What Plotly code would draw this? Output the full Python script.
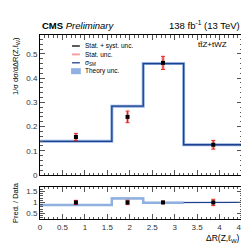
import plotly.graph_objects as go
from plotly.subplots import make_subplots

# ---- data ----
bin_edges = [0.0, 1.6, 2.3, 3.2, 4.5]
sm_pred = [0.139, 0.284, 0.460, 0.125]
data_x = [0.80, 1.95, 2.74, 3.86]
data_y = [0.157, 0.240, 0.463, 0.125]
err_total = [0.015, 0.024, 0.027, 0.018]
err_stat = [0.013, 0.021, 0.024, 0.016]
ratio_pred = [0.88, 1.18, 0.99, 1.0]
x_ticks = [0, 0.5, 1, 1.5, 2, 2.5, 3, 3.5, 4, 4.5]
x_tick_labels = ["0", "0.5", "1", "1.5", "2", "2.5", "3", "3.5", "4", "4.5"]
y_ticks_top = [0, 0.1, 0.2, 0.3, 0.4, 0.5]
y_tick_labels_top = ["0", "0.1", "0.2", "0.3", "0.4", "0.5"]
y_ticks_bot = [0.5, 1, 1.5]
y_tick_labels_bot = ["0.5", "1", "1.5"]

DARK = "#1f3f8f"
LIGHT = "#8fb0e0"
RED = "#e02020"
PINK = "#f4a0a0"
FONT = "Liberation Sans"

def step(edges, vals):
    xs, ys = [], []
    for i, v in enumerate(vals):
        xs += [edges[i], edges[i + 1]]
        ys += [v, v]
    return xs, ys

fig = make_subplots(rows=2, cols=1, shared_xaxes=False,
                    row_heights=[0.76, 0.24], vertical_spacing=0.065)

sx, sy = step(bin_edges, sm_pred)
fig.add_trace(go.Scatter(x=sx, y=sy, mode="lines", line=dict(color=LIGHT, width=3),
                         hoverinfo="skip", showlegend=False), row=1, col=1)
fig.add_trace(go.Scatter(x=sx, y=sy, mode="lines", line=dict(color=DARK, width=1.3),
                         hoverinfo="skip", showlegend=False), row=1, col=1)
fig.add_trace(go.Scatter(x=data_x, y=data_y, mode="markers",
                         marker=dict(color="rgba(0,0,0,0)", size=1),
                         error_y=dict(type="data", array=err_stat, color=PINK, thickness=3, width=0),
                         showlegend=False), row=1, col=1)
fig.add_trace(go.Scatter(x=data_x, y=data_y, mode="markers",
                         marker=dict(color="black", size=4, symbol="square"),
                         error_y=dict(type="data", array=err_total, color=RED, thickness=1, width=2),
                         showlegend=False), row=1, col=1)

# ratio panel
rx, ry = step(bin_edges, ratio_pred)
fig.add_trace(go.Scatter(x=rx, y=ry, mode="lines", line=dict(color=DARK, width=1.3),
                         hoverinfo="skip", showlegend=False), row=2, col=1)
rx3, ry3 = step(bin_edges[:4], ratio_pred[:3])
fig.add_trace(go.Scatter(x=rx3, y=ry3, mode="lines", line=dict(color=LIGHT, width=2.5),
                         hoverinfo="skip", showlegend=False), row=2, col=1)
ones = [1.0] * len(data_x)
rel_stat = [e / d for e, d in zip(err_stat, data_y)]
rel_tot = [e / d for e, d in zip(err_total, data_y)]
fig.add_trace(go.Scatter(x=data_x, y=ones, mode="markers",
                         marker=dict(color="rgba(0,0,0,0)", size=1),
                         error_y=dict(type="data", array=rel_stat, color=PINK, thickness=3, width=0),
                         showlegend=False), row=2, col=1)
fig.add_trace(go.Scatter(x=data_x, y=ones, mode="markers",
                         marker=dict(color="black", size=4, symbol="square"),
                         error_y=dict(type="data", array=rel_tot, color=RED, thickness=1, width=2),
                         showlegend=False), row=2, col=1)

axis_common = dict(showline=True, mirror="allticks", linecolor="black", linewidth=1,
                   ticks="inside", ticklen=5, tickcolor="#555", tickwidth=1,
                   showgrid=False, zeroline=False, ticklabeloverflow="allow",
                   tickfont=dict(family=FONT, size=8, color="#333"))

fig.update_xaxes(range=[0, 4.5], tickvals=x_ticks, ticktext=x_tick_labels, showticklabels=False,
                 minor=dict(ticks="inside", ticklen=2.5, dtick=0.1, tickcolor="#555"),
                 **axis_common, row=1, col=1)
fig.update_xaxes(range=[0, 4.5], tickvals=x_ticks, ticktext=x_tick_labels, showticklabels=True,
                 minor=dict(ticks="inside", ticklen=2.5, dtick=0.1, tickcolor="#555"),
                 **axis_common, row=2, col=1)
fig.update_yaxes(range=[0, 0.578], tickvals=y_ticks_top, ticktext=y_tick_labels_top,
                 minor=dict(ticks="inside", ticklen=2.5, dtick=0.02, tickcolor="#555"),
                 **axis_common, row=1, col=1)
fig.update_yaxes(range=[0.25, 1.7], tickvals=y_ticks_bot, ticktext=y_tick_labels_bot,
                 minor=dict(ticks="inside", ticklen=2.5, dtick=0.1, tickcolor="#555"),
                 **axis_common, row=2, col=1)

fig.update_layout(
    width=249, height=244,
    margin=dict(l=32, r=9, t=27, b=33),
    paper_bgcolor="white", plot_bgcolor="white",
    font=dict(family=FONT, color="black"),
    showlegend=False,
)
fig.update_layout(yaxis=dict(domain=[0.239, 1.0]), yaxis2=dict(domain=[0.0, 0.174]))

ann = []
ann.append(dict(xref="paper", yref="paper", x=0.0, y=1.0, yshift=2, xanchor="left", yanchor="bottom",
                text="<b>CMS</b> <i>Preliminary</i>", showarrow=False,
                font=dict(family=FONT, size=9.5, color="black")))
ann.append(dict(xref="paper", yref="paper", x=1.0, y=1.0, yshift=2, xanchor="right", yanchor="bottom",
                text="138 fb<sup>-1</sup> (13 TeV)", showarrow=False,
                font=dict(family=FONT, size=9.5, color="black")))
ann.append(dict(xref="x", yref="y", x=3.85, y=0.537, xanchor="center", yanchor="middle",
                text="tt\u0304Z+tWZ", showarrow=False,
                font=dict(family=FONT, size=8, color="black")))
ann.append(dict(xref="paper", yref="paper", x=1.0, y=0, yshift=-12, xanchor="right", yanchor="top",
                text="\u0394R(Z,\u2113<sub>W</sub>)", showarrow=False,
                font=dict(family=FONT, size=8.5, color="black")))
ann.append(dict(xref="paper", yref="paper", x=0, xshift=-24, y=1.0, xanchor="center", yanchor="top",
                text="1/\u03c3 d\u03c3/d\u0394R(Z,\u2113<sub>W</sub>)", textangle=-90, showarrow=False,
                font=dict(family=FONT, size=7.5, color="black")))
ann.append(dict(xref="paper", yref="paper", x=0, xshift=-24, y=0.087, xanchor="center", yanchor="middle",
                text="Pred. / Data", textangle=-90, showarrow=False,
                font=dict(family=FONT, size=7.5, color="black")))

# legend (manual)
leg_items = [("Stat. + syst. unc.", "black", "line"), ("Stat. unc.", PINK, "line"),
             ("\u03c3<sub>SM</sub>", DARK, "line"), ("Theory unc.", LIGHT, "box")]
shapes = []
for i, (lab, col, kind) in enumerate(leg_items):
    ypx = 38 + i * 8.4
    if kind == "line":
        shapes.append(dict(type="line", xref="paper", yref="paper",
                           x0=(65 - 32) / 208, x1=(73 - 32) / 208,
                           y0=(211 - ypx) / 184, y1=(211 - ypx) / 184,
                           line=dict(color=col, width=1.3 if col != PINK else 2)))
    else:
        shapes.append(dict(type="rect", xref="paper", yref="paper",
                           x0=(64 - 32) / 208, x1=(74 - 32) / 208,
                           y0=(211 - ypx - 3) / 184, y1=(211 - ypx + 3) / 184,
                           line=dict(width=0), fillcolor=col))
    ann.append(dict(xref="paper", yref="paper", x=(76 - 32) / 208, y=(211 - ypx) / 184,
                    xanchor="left", yanchor="middle", text=lab, showarrow=False,
                    font=dict(family=FONT, size=6.5, color="black")))

fig.update_layout(annotations=ann, shapes=shapes)
fig.write_html("out.html")
